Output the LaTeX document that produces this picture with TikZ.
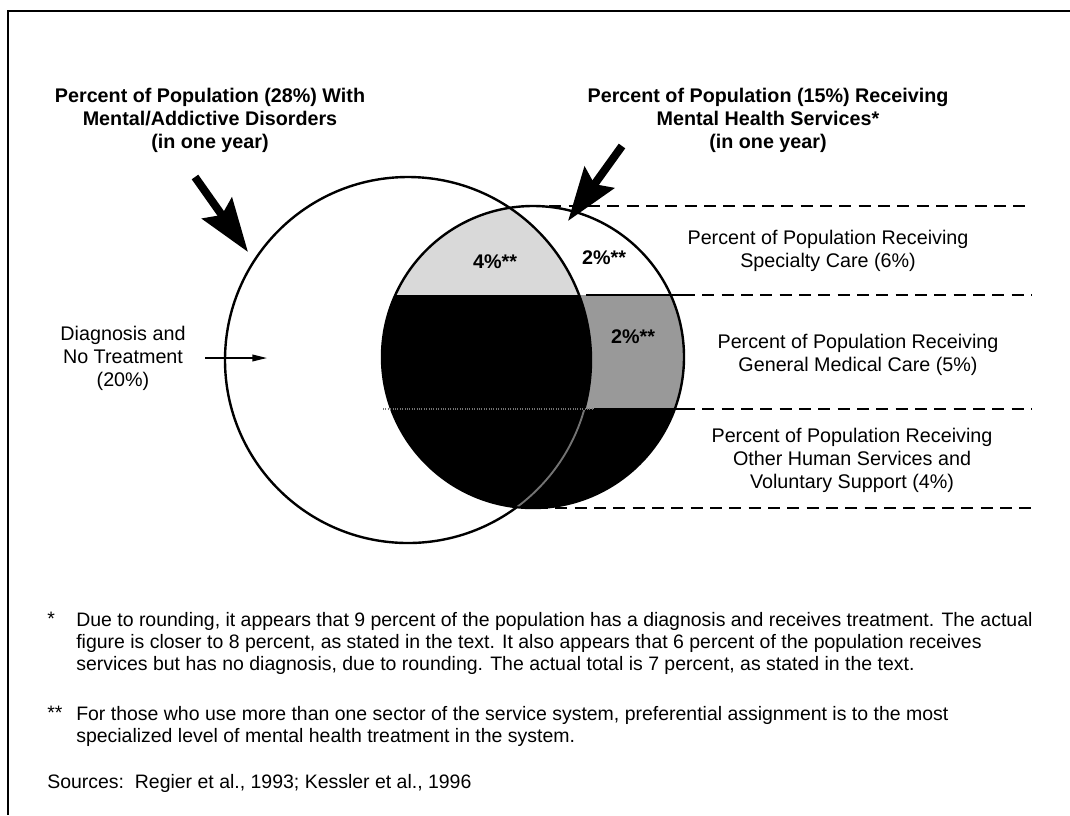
\documentclass[tikz,border=0pt]{standalone}
\usepackage{fontspec}
\setmainfont{Liberation Sans}
\usetikzlibrary{arrows.meta}

\tikzset{
  ttl/.style={font=\bfseries\fontsize{14.8}{17}\selectfont, align=center},
  lbl/.style={font=\fontsize{14.8}{17.3}\selectfont, align=center},
  pct/.style={font=\bfseries\fontsize{14.8}{17}\selectfont, inner sep=0pt},
  note/.style={font=\fontsize{14.6}{16.5}\selectfont, align=left, inner sep=0pt},
  guide/.style={line width=0.9pt, dash pattern=on 9pt off 5.5pt},
  bigarrow/.style={line width=6pt, -{Stealth[length=40pt,width=27pt,inset=6pt]}},
  ring/.style={line width=1.8pt},
}

\begin{document}
\begin{tikzpicture}[x=0.75pt,y=-0.75pt]
  \useasboundingbox (0,0) rectangle (1070,815);

  % frame
  \draw[line width=1.8pt] (1070,11) -- (8,11) -- (8,815);

  \coordinate (B) at (408,360);
  \coordinate (S) at (533,357);

  % filled bands of the small circle
  \begin{scope}
    \clip (S) circle (151);
    \fill[black!40] (375,295) rectangle (690,409);
    \fill[black] (375,409) rectangle (690,515);
    \begin{scope}
      \clip (B) circle (183);
      \fill[black!15] (375,200) rectangle (690,295);
      \fill[black] (375,295) rectangle (690,409);
    \end{scope}
  \end{scope}

  \draw[ring] (B) circle (183);
  \draw[ring] (S) circle (151);

  % big circle edge seen through the black band
  \begin{scope}
    \clip (S) circle (150);
    \clip (375,410) rectangle (690,515);
    \draw[black!55, line width=1.4pt] (B) circle (183);
  \end{scope}
  \draw[black!55, line width=0.8pt, densely dotted] (383,409) -- (592,409);

  % band limits
  \coordinate (r1) at (1032,206);
  \coordinate (r2) at (1032,295);
  \coordinate (r3) at (1032,409);
  \coordinate (r4) at (1032,508);
  \draw[line width=1.2pt] (586,295) -- (683,295);
  \draw[line width=1.2pt] (594,409) -- (683,409);
  \draw[guide] (530,206) -- (r1);
  \draw[guide] (683,295) -- (r2);
  \draw[guide] (683,409) -- (r3);
  \draw[guide] (536,508) -- (r4);

  \node[pct] (p4) at (495,262) {4\%**};
  \node[pct] (p2a) at (604,258) {2\%**};
  \node[pct] (p2b) at (633,337) {2\%**};

  % titles
  \node[ttl] (disorders) at (210,120.5) {Percent of Population (28\%) With\\Mental/Addictive Disorders\\(in one year)};
  \node[ttl] (services) at (768,120.5) {Percent of Population (15\%) Receiving\\Mental Health Services*\\(in one year)};

  \coordinate (a1) at (195,177);
  \coordinate (a1e) at (248,252);
  \coordinate (a2) at (622,146);
  \coordinate (a2e) at (568,221);
  \draw[bigarrow] (a1) -- (a1e);
  \draw[bigarrow] (a2) -- (a2e);

  \node[lbl] (notreat) at (123,358) {Diagnosis and\\No Treatment\\(20\%)};
  \coordinate (nt) at (267,358);
  \draw[line width=1.1pt, -{Triangle[length=11pt,width=5pt]}] (205,358) -- (nt);

  \node[lbl] (specialty) at (828,251) {Percent of Population Receiving\\Specialty Care (6\%)};
  \node[lbl] (general) at (858,355) {Percent of Population Receiving\\General Medical Care (5\%)};
  \node[lbl] (other) at (852,460) {Percent of Population Receiving\\Other Human Services and\\Voluntary Support (4\%)};

  % notes
  \node[note, anchor=north west] (fn1) at (76,612) {Due to rounding, it appears that 9 percent of the population has a diagnosis and receives treatment. The actual\\figure is closer to 8 percent, as stated in the text. It also appears that 6 percent of the population receives\\services but has no diagnosis, due to rounding. The actual total is 7 percent, as stated in the text.};
  \node[note, anchor=north west] (s1) at (47,612) {*};
  \node[note, anchor=north west] (fn2) at (76,706) {For those who use more than one sector of the service system, preferential assignment is to the most\\specialized level of mental health treatment in the system.};
  \node[note, anchor=north west] (s2) at (47,706) {**};
  \node[note, anchor=north west] (src) at (47,774) {Sources:\ \ Regier et al., 1993; Kessler et al., 1996};
\end{tikzpicture}
\end{document}
